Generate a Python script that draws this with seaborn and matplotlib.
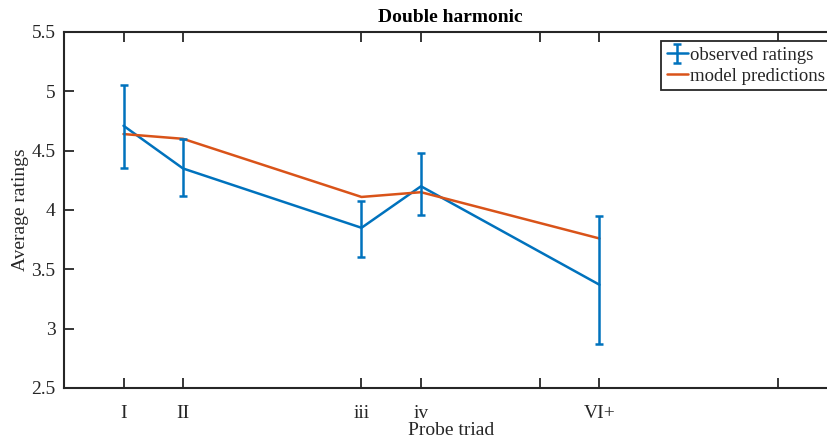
import matplotlib
matplotlib.use("Agg")
import matplotlib.pyplot as plt
import seaborn as sns
import pandas as pd
from matplotlib.lines import Line2D
from matplotlib.legend_handler import HandlerTuple

# data
triad_pos = [1, 2, 5, 6, 9]
triad_labels = ["I", "II", "iii", "iv", "VI+"]
observed = [4.71, 4.35, 3.85, 4.20, 3.37]
err_upper = [5.05, 4.60, 4.08, 4.48, 3.95]
err_lower = [4.35, 4.12, 3.60, 3.96, 2.87]
model = [4.64, 4.60, 4.11, 4.15, 3.76]
tick_pos = [1, 2, 5, 6, 8, 9, 12]
tick_labels = ["I", "II", "iii", "iv", "", "VI+", ""]

sns.set_theme(style="white")
plt.rcParams['font.family'] = ['Liberation Serif', 'DejaVu Serif']

blue = "#0072BD"
orange = "#D95319"

fig = plt.figure(figsize=(8.27, 4.41), dpi=100)
W, H = 827, 441
left, right = 64, 837.5
top, bottom = 32, 388
ax = fig.add_axes([left / W, 1 - bottom / H, (right - left) / W, (bottom - top) / H])

df = pd.DataFrame({"x": triad_pos, "obs": observed, "model": model})
sns.lineplot(data=df, x="x", y="obs", ax=ax, color=blue, lw=1.8, legend=False)
sns.lineplot(data=df, x="x", y="model", ax=ax, color=orange, lw=1.8, legend=False)
yerr = [[o - l for o, l in zip(observed, err_lower)], [u - o for o, u in zip(observed, err_upper)]]
eb = ax.errorbar(triad_pos, observed, yerr=yerr, fmt="none", ecolor=blue, elinewidth=1.8,
                 capsize=3, capthick=1.8)

ax.set_xlim(0, 13)
ax.set_ylim(2.5, 5.5)
ax.set_xticks(tick_pos)
ax.set_xticklabels(tick_labels)
ax.set_yticks([2.5, 3, 3.5, 4, 4.5, 5, 5.5])
ax.set_yticklabels(["2.5", "3", "3.5", "4", "4.5", "5", "5.5"])
ax.tick_params(direction="in", length=7, width=1.3, color="#262626", labelsize=14,
               labelcolor="#262626", top=True, right=True, bottom=True, left=True)
ax.tick_params(axis="x", pad=12)
ax.tick_params(axis="y", pad=6)
for s in ax.spines.values():
    s.set_color("#262626")
    s.set_linewidth(1.5)

ax.set_xlabel("Probe triad", fontsize=14, color="#262626", labelpad=0)
ax.set_ylabel("Average ratings", fontsize=14, color="#262626", labelpad=2)
ax.set_title("Double harmonic", fontsize=14, fontweight="bold", color="black", pad=7)

obs_line = Line2D([0], [0], color=blue, lw=1.8)
model_handle = Line2D([0], [0], color=orange, lw=1.8)
x0 = (661 - left) / (right - left)
y0 = 1 - (41 - top) / (bottom - top)
leg = ax.legend([(obs_line, eb), model_handle], ["observed ratings", "model predictions"],
                loc="upper left", bbox_to_anchor=(x0, y0), fontsize=13.5,
                handler_map={tuple: HandlerTuple(ndivide=1, pad=0)},
                frameon=True, fancybox=False, edgecolor="#262626", framealpha=1,
                borderpad=0.3, handlelength=1.15, handletextpad=0.1, labelspacing=0.2,
                borderaxespad=0.0)
leg.get_frame().set_linewidth(1.3)

fig.savefig("out.png", dpi=100)
